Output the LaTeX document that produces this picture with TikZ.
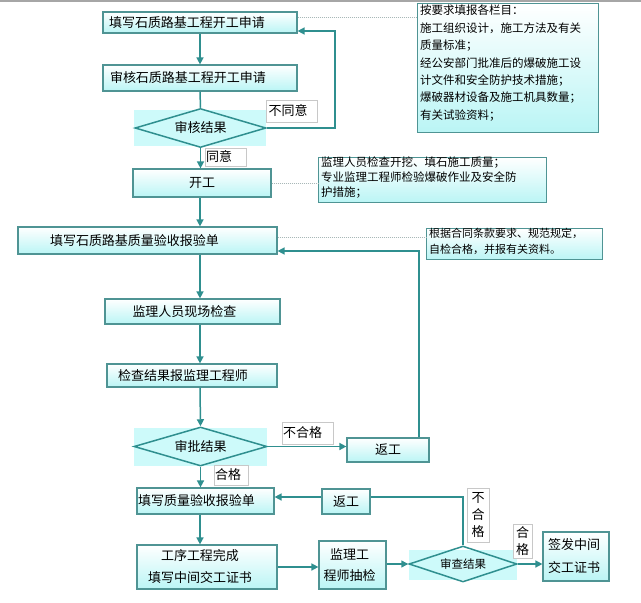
\documentclass[tikz,border=0pt]{standalone}
\usepackage{fontspec}
\newfontfamily\cjk{Noto Sans CJK SC}
\usetikzlibrary{arrows.meta,shapes.geometric}
\definecolor{linec}{HTML}{2F8F8F}
\definecolor{boxc}{HTML}{4F9494}
\definecolor{cyanfill}{HTML}{BAF5F5}
\definecolor{dfill}{HTML}{CDFAFA}
\definecolor{lblc}{HTML}{C8C8C8}
\definecolor{dotc}{HTML}{A8B8B8}
\tikzset{
  box/.style={draw=boxc, line width=1.2pt, top color=white, bottom color=cyanfill,
    inner sep=0pt, align=center, font=\cjk\fontsize{13}{22}\selectfont},
  notebox/.style={draw=boxc, line width=1.2pt, top color=white, bottom color=cyanfill,
    inner sep=0pt, anchor=north west},
  notetext/.style={inner xsep=3pt, inner ysep=0.5pt, anchor=north west, align=left},
  dia/.style={diamond, aspect=3, draw=linec, line width=1.5pt, inner sep=0pt,
    font=\cjk\fontsize{13}{16}\selectfont},
  dbg/.style={fill=dfill},
  flow/.style={draw=linec, line width=1.5pt, -{Triangle[length=7pt,width=7pt]}},
  plain/.style={draw=linec, line width=1.5pt},
  lbl/.style={draw=lblc, fill=white, line width=0.6pt, inner sep=0pt,
    font=\cjk\fontsize{13}{17}\selectfont},
  dots/.style={draw=dotc, densely dotted, line width=1pt}
}
\begin{document}
\begin{tikzpicture}[x=1pt,y=-1pt]
\useasboundingbox (0,0) rectangle (641,603);
\fill[white] (0,0) rectangle (641,603);
\draw[gray!70, line width=2pt] (0,1) -- (641,1);

% diamond backgrounds
\fill[dbg] (134,110) rectangle (266,146);
\fill[dbg] (134,428) rectangle (267,466);
\fill[dbg] (409,550) rectangle (517,580);

% main boxes
\node[box, minimum width=194, minimum height=21, text width=182, inner xsep=6, align=left] (A) at (200,22.5) {填写石质路基工程开工申请};
\node[box, minimum width=194, minimum height=26, text width=180, inner xsep=7, align=left] (B) at (200,78) {审核石质路基工程开工申请};
\node[dia, minimum width=131, minimum height=39] (D1) at (200.5,128) {审核结果};
\node[box, minimum width=138, minimum height=28] (K) at (202,183) {开工};
\node[box, minimum width=259, minimum height=27, text width=195, inner xsep=32, align=left] (C) at (147.5,240.5) {填写石质路基质量验收报验单};
\node[box, minimum width=175, minimum height=25, text width=175] (D) at (192.5,311.5) {\hspace*{-16pt}监理人员现场检查};
\node[box, minimum width=170, minimum height=23, text width=170] (E) at (192,375.5) {\hspace*{-18pt}检查结果报监理工程师};
\node[dia, minimum width=133, minimum height=39] (D2) at (200.5,446.5) {审批结果};
\node[box, minimum width=82, minimum height=24] (R1) at (388,450) {返工};
\node[box, minimum width=137, minimum height=26, text width=135, inner xsep=1, align=left] (F) at (205.5,501) {填写质量验收报验单};
\node[box, minimum width=48, minimum height=25] (R2) at (346,501.5) {返工};
\node[box, minimum width=140, minimum height=44, text width=140] (G) at (207,567) {\hspace*{-14pt}工序工程完成\\\hspace*{-14pt}填写中间交工证书};
\node[box, minimum width=67, minimum height=48, text width=67, font=\cjk\fontsize{13}{21}\selectfont] (H) at (352.5,565) {\hspace*{-6pt}监理工\\\hspace*{-6pt}程师抽检};
\node[dia, minimum width=108, minimum height=36, font=\cjk\fontsize{11.5}{14}\selectfont] (D3) at (463,564) {审查结果};
\node[box, minimum width=66, minimum height=49, text width=66, font=\cjk\fontsize{13}{23}\selectfont] (S) at (576,556.5) {\hspace*{-4pt}签发中间\\\hspace*{-4pt}交工证书};

% notes
\node[notebox, minimum width=181, minimum height=129] (N1) at (417,3) {};
\node[notetext, inner ysep=2pt, font=\cjk\fontsize{11.5}{17.4}\selectfont] at (N1.north west) {按要求填报各栏目：\\施工组织设计，施工方法及有关\\质量标准；\\经公安部门批准后的爆破施工设\\计文件和安全防护技术措施；\\爆破器材设备及施工机具数量；\\有关试验资料；};
\node[notebox, minimum width=228, minimum height=45] (N2) at (318,157) {};
\node[notetext, inner ysep=0pt, font=\cjk\fontsize{11.5}{15}\selectfont] at (N2.north west) {监理人员检查开挖、填石施工质量；\\专业监理工程师检验爆破作业及安全防\\护措施；};
\node[notebox, minimum width=176, minimum height=31] (N3) at (426,228) {};
\node[notetext, inner ysep=0pt, font=\cjk\fontsize{11}{15.5}\selectfont] at (N3.north west) {根据合同条款要求、规范规定，\\自检合格，并报有关资料。};

% labels
\node[lbl, minimum width=50, minimum height=22, text width=47, inner xsep=2, align=left] (L1) at (292,111) {不同意};
\node[lbl, minimum width=41, minimum height=18, text width=39, inner xsep=1, align=left] (L2) at (225.5,157) {同意};
\node[lbl, minimum width=51, minimum height=22, text width=49, inner xsep=1, align=left] (L3) at (307.5,433) {不合格};
\node[lbl, minimum width=34, minimum height=20, text width=32, inner xsep=1, align=left] (L4) at (231,475) {合格};
\node[lbl, minimum width=22, minimum height=54, align=center] (L5) at (478,515) {不\\合\\格};
\node[lbl, minimum width=19, minimum height=34, align=center] (L6) at (522.5,541) {合\\格};

% helper coordinates
\coordinate (sp) at (200,0);
\coordinate (t1) at (335,31);
\coordinate (t2) at (419,251);
\coordinate (t3) at (463,497);

% dotted links
\draw[dots] ([yshift=5.5pt]A.east) -- ([yshift=5.5pt]A.east -| N1.west);
\draw[dots] (K.east) -- (K.east -| N2.west);
\draw[dots] ([yshift=3.5pt]C.east) -- ([yshift=3.5pt]C.east -| N3.west);

% connectors
\draw[flow] (A.south -| sp) -- (B.north -| sp);
\draw[plain] (B.south -| sp) -- (D1.north);
\draw[flow] (D1.east) -| (t1) -- (t1 -| A.east);
\draw[flow] (D1.south) -- (K.north -| D1.south);
\draw[flow] (K.south -| sp) -- (C.north -| sp);
\draw[flow] (C.south -| sp) -- (D.north -| sp);
\draw[flow] (D.south -| sp) -- (E.north -| sp);
\draw[flow] (E.south -| sp) -- (D2.north);
\draw[flow] (D2.east) -- (R1.west |- D2.east);
\draw[flow] (R1.north -| t2) -- (t2) -- (t2 -| C.east);
\draw[flow] (D2.south) -- (F.north -| D2.south);
\draw[flow] (F.south -| sp) -- (G.north -| sp);
\draw[flow] (G.east) -- (G.east -| H.west);
\draw[flow] (H.east |- D3.west) -- (D3.west);
\draw[flow] (D3.east) -- (D3.east -| S.west);
\draw[plain] (D3.north) -- (t3) -- (t3 -| R2.east);
\draw[flow] (t3 -| R2.west) -- (t3 -| F.east);
\end{tikzpicture}
\end{document}
